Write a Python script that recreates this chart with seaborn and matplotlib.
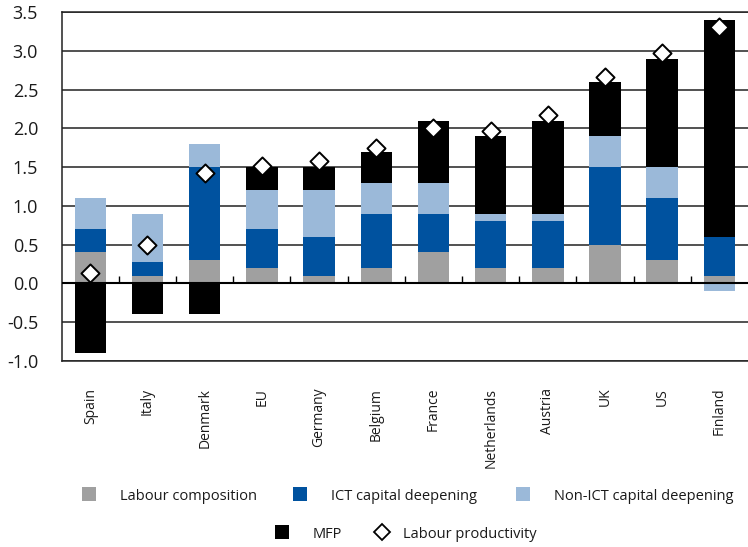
import numpy as np
import pandas as pd
import matplotlib
matplotlib.use("Agg")
import matplotlib.pyplot as plt
import seaborn as sns
from matplotlib.lines import Line2D

countries = ["Spain", "Italy", "Denmark", "EU", "Germany", "Belgium", "France",
             "Netherlands", "Austria", "UK", "US", "Finland"]
labour_composition = [0.4, 0.1, 0.3, 0.2, 0.1, 0.2, 0.4, 0.2, 0.2, 0.5, 0.3, 0.1]
ict_capital = [0.3, 0.18, 1.2, 0.5, 0.5, 0.7, 0.5, 0.6, 0.6, 1.0, 0.8, 0.5]
non_ict_capital = [0.4, 0.62, 0.3, 0.5, 0.6, 0.4, 0.4, 0.1, 0.1, 0.4, 0.4, -0.1]
mfp = [-0.9, -0.4, -0.4, 0.3, 0.3, 0.4, 0.8, 1.0, 1.2, 0.7, 1.4, 2.8]
labour_productivity = [0.13, 0.5, 1.42, 1.52, 1.58, 1.75, 2.0, 1.97, 2.17, 2.67, 2.97, 3.31]

series_names = ["Labour composition", "ICT capital deepening",
                "Non-ICT capital deepening", "MFP"]
series_colors = ["#A0A0A0", "#00529F", "#9BB9D9", "#000000"]
lp_name = "Labour productivity"

sns.set_theme(style="white")
plt.rcParams["font.family"] = ["Open Sans", "DejaVu Sans"]
text_color = "#1a1a1a"

fig = plt.figure(figsize=(7.48, 5.47), dpi=100)
ax = fig.add_axes([0.0825, 0.3406, 0.9175, 0.6369])

n = len(countries)
pos_base = np.zeros(n)
neg_base = np.zeros(n)
for name, vals, col in zip(series_names,
                           [labour_composition, ict_capital, non_ict_capital, mfp],
                           series_colors):
    v = np.asarray(vals, dtype=float)
    bottom = np.where(v >= 0, pos_base, neg_base)
    df = pd.DataFrame({"country": countries, "value": v})
    sns.barplot(data=df, x="country", y="value", order=countries, color=col,
                saturation=1, width=0.55, errorbar=None, linewidth=0,
                bottom=bottom, ax=ax, zorder=2)
    pos_base += np.where(v > 0, v, 0)
    neg_base += np.where(v < 0, v, 0)

sns.scatterplot(x=np.arange(n), y=labour_productivity, marker="D", s=85,
                facecolor="white", edgecolor="black", linewidth=1.4,
                ax=ax, zorder=5, legend=False)

ax.axhline(0, color="black", lw=1.5, zorder=3)
ax.vlines(np.arange(n - 1) + 0.5, 0, 0.09, color="black", lw=1, zorder=3)

ax.set_xlim(-0.5, n - 0.5)
ax.set_ylim(-1.0, 3.5)
yt = np.arange(-1.0, 3.51, 0.5)
ax.set_yticks(yt)
ax.set_yticklabels([f"{t:.1f}" for t in yt])
ax.yaxis.grid(True, color="#222222", lw=1.1, zorder=0)
ax.set_axisbelow(True)
ax.set_xlabel("")
ax.set_ylabel("")
ax.tick_params(axis="y", length=0, pad=17, labelsize=13, labelcolor=text_color)
ax.tick_params(axis="x", length=0, pad=19.5, labelsize=10, labelcolor=text_color,
               labelrotation=90)
for s in ["top", "bottom", "left"]:
    ax.spines[s].set_visible(True)
    ax.spines[s].set_color("#222222")
    ax.spines[s].set_linewidth(1.1)
ax.spines["right"].set_visible(False)

# Legend entries, each placed individually
fs = 10.5
entries = [
    (series_names[0], series_colors[0], "s", 82, 496, 1.6),
    (series_names[1], series_colors[1], "s", 293, 496, 1.6),
    (series_names[2], series_colors[2], "s", 516, 496, 1.6),
    (series_names[3], series_colors[3], "s", 275, 534, 1.6),
    (lp_name, "white", "D", 374.7, 534, 0.94),
]
W, H = 748.0, 547.0
for label, col, mk, px, py, pad in entries:
    if mk == "s":
        h = Line2D([], [], ls="none", marker="s", markersize=10.2,
                   markerfacecolor=col, markeredgewidth=0)
    else:
        h = Line2D([], [], ls="none", marker="D", markersize=8.3,
                   markerfacecolor="white", markeredgecolor="black",
                   markeredgewidth=1.3)
    fig.legend([h], [label], loc="center left",
               bbox_to_anchor=(px / W, 1 - py / H), frameon=False,
               fontsize=fs, handlelength=1.0, handletextpad=pad,
               borderpad=0, borderaxespad=0, labelcolor=text_color)

fig.savefig("out.png", dpi=100)
